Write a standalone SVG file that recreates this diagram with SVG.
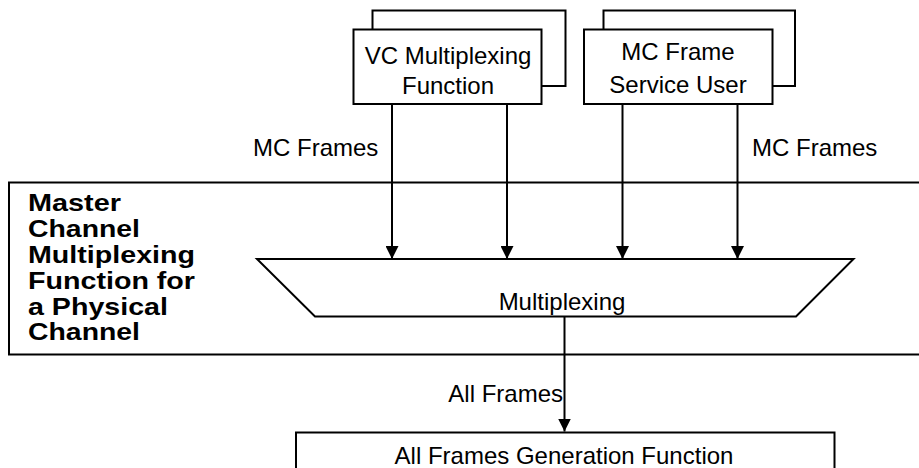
<svg xmlns="http://www.w3.org/2000/svg" width="919" height="468" viewBox="0 0 919 468">
<style>
.ln{stroke:#000;stroke-width:2;fill:none}
.bx{stroke:#000;stroke-width:2;fill:#fff}
.t{font-family:"Liberation Sans",Arial,sans-serif;font-size:24px;fill:#000}
.b{font-family:"Liberation Sans",Arial,sans-serif;font-size:24px;font-weight:bold;fill:#000}
</style>
<defs>
<marker id="ah" markerWidth="13" markerHeight="13" refX="13" refY="6.5" orient="auto" markerUnits="userSpaceOnUse">
<path d="M0,0 L13,6.5 L0,13 Z" fill="#000"/>
</marker>
</defs>
<rect width="919" height="468" fill="#fff"/>
<g id="band">
<path class="ln" d="M919,182.5 H9 V354.5 H919"/>
<text class="b" x="28" y="211" textLength="93" lengthAdjust="spacingAndGlyphs">Master</text>
<text class="b" x="28" y="237" textLength="112" lengthAdjust="spacingAndGlyphs">Channel</text>
<text class="b" x="28" y="263" textLength="167" lengthAdjust="spacingAndGlyphs">Multiplexing</text>
<text class="b" x="28" y="289" textLength="167" lengthAdjust="spacingAndGlyphs">Function for</text>
<text class="b" x="28" y="315" textLength="140" lengthAdjust="spacingAndGlyphs">a Physical</text>
<text class="b" x="28" y="340" textLength="112" lengthAdjust="spacingAndGlyphs">Channel</text>
</g>
<g id="vcmux">
<path class="ln" d="M372.5,29.5 V10.5 H565.5 V86 H541.5"/>
<rect class="bx" x="353.5" y="29.5" width="188" height="74.5"/>
<text class="t" x="448" y="63.5" text-anchor="middle">VC Multiplexing</text>
<text class="t" x="448" y="94" text-anchor="middle">Function</text>
</g>
<g id="mcuser">
<path class="ln" d="M603.5,29.5 V10.5 H795 V86 H772.5"/>
<rect class="bx" x="584" y="29.5" width="188.5" height="74.5"/>
<text class="t" x="678" y="60" text-anchor="middle">MC Frame</text>
<text class="t" x="678" y="92.5" text-anchor="middle">Service User</text>
</g>
<g id="mux">
<path class="bx" d="M257,259 H853.5 L796,316.5 H315 Z"/>
<text class="t" x="562" y="310" text-anchor="middle">Multiplexing</text>
</g>
<g id="afgen">
<rect class="bx" x="296" y="432.5" width="538.5" height="50"/>
<text class="t" x="564" y="463.5" text-anchor="middle">All Frames Generation Function</text>
</g>
<g id="connectors">
<line class="ln" x1="392" y1="104" x2="392" y2="259" marker-end="url(#ah)"/>
<line class="ln" x1="507" y1="104" x2="507" y2="259" marker-end="url(#ah)"/>
<line class="ln" x1="622.5" y1="104" x2="622.5" y2="259" marker-end="url(#ah)"/>
<line class="ln" x1="737.5" y1="104" x2="737.5" y2="259" marker-end="url(#ah)"/>
<line class="ln" x1="564.5" y1="316.5" x2="564.5" y2="431.5" marker-end="url(#ah)"/>
<text class="t" x="253" y="156">MC Frames</text>
<text class="t" x="752" y="156">MC Frames</text>
<text class="t" x="563" y="402" text-anchor="end">All Frames</text>
</g>
</svg>
